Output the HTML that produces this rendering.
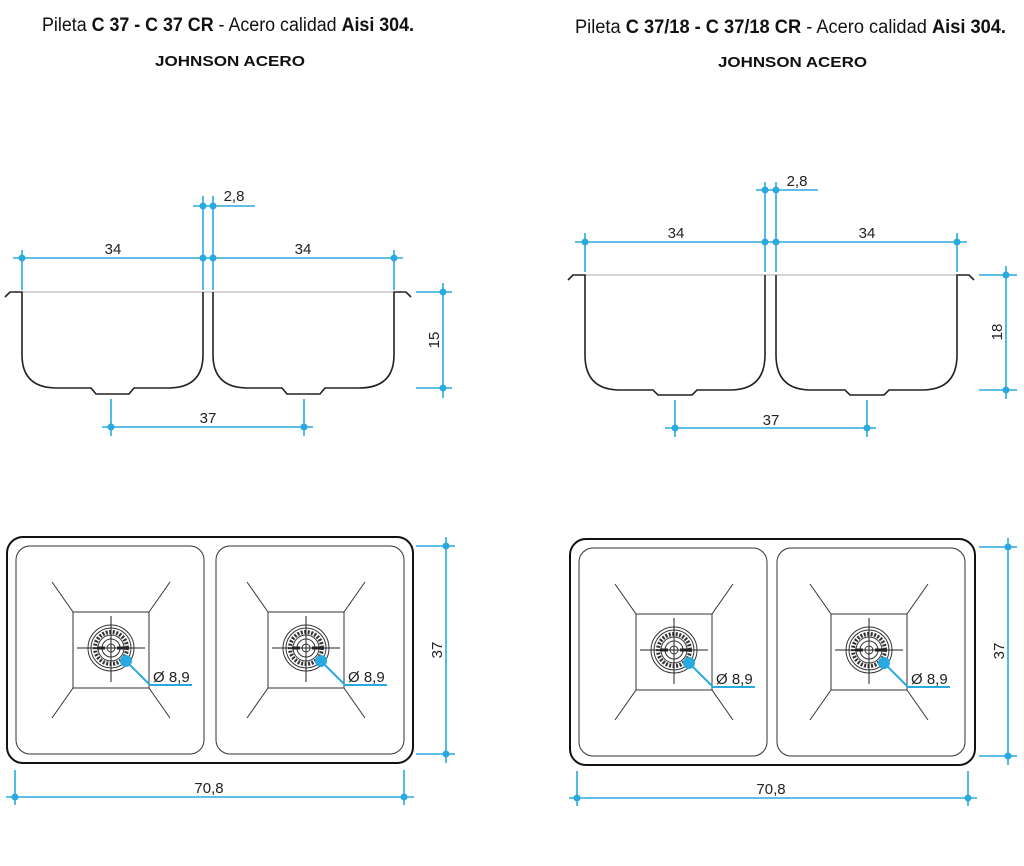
<!DOCTYPE html>
<html><head><meta charset="utf-8"><style>html,body{margin:0;padding:0;background:#fff}svg{display:block}</style></head><body>
<svg width="1024" height="866" viewBox="0 0 1024 866" xmlns="http://www.w3.org/2000/svg" font-family="Liberation Sans, sans-serif">
<defs>
<g id="drain">
 <line x1="-38" y1="-36" x2="-59" y2="-66" stroke="#333" stroke-width="1"/>
 <line x1="38" y1="-36" x2="59" y2="-66" stroke="#333" stroke-width="1"/>
 <line x1="-38" y1="40" x2="-59" y2="70" stroke="#333" stroke-width="1"/>
 <line x1="38" y1="40" x2="59" y2="70" stroke="#333" stroke-width="1"/>
 <rect x="-38" y="-36" width="76" height="76" fill="none" stroke="#333" stroke-width="1"/>
 <circle r="23" fill="none" stroke="#333" stroke-width="1"/>
 <circle r="20" fill="none" stroke="#333" stroke-width="1"/>
 <circle r="16" fill="none" stroke="#333" stroke-width="4" stroke-dasharray="2 1.5"/>
 <circle r="13" fill="none" stroke="#333" stroke-width="1"/>
 <circle r="9" fill="none" stroke="#333" stroke-width="1"/>
 <circle r="4" fill="none" stroke="#333" stroke-width="1"/>
 <line x1="-34" y1="0" x2="34" y2="0" stroke="#222" stroke-width="1"/>
 <line x1="0" y1="-32" x2="0" y2="34" stroke="#222" stroke-width="1"/>
 <line x1="-14" y1="0" x2="-6" y2="0" stroke="#222" stroke-width="3"/>
 <line x1="6" y1="0" x2="14" y2="0" stroke="#222" stroke-width="3"/>
 <circle cx="15" cy="13" r="6" fill="#29a9e0"/>
 <polyline points="15,13 39,37 81,37" fill="none" stroke="#29a9e0" stroke-width="2"/>
</g>
</defs>
<g fill="#111">
<text x="42" y="31" font-size="19" textLength="372" lengthAdjust="spacingAndGlyphs">Pileta <tspan font-weight="bold">C 37 - C 37 CR</tspan> - Acero calidad <tspan font-weight="bold">Aisi 304.</tspan></text>
<text x="155" y="66" font-size="15" font-weight="bold" textLength="150" lengthAdjust="spacingAndGlyphs">JOHNSON ACERO</text>
<text x="575" y="33" font-size="19" textLength="431" lengthAdjust="spacingAndGlyphs">Pileta <tspan font-weight="bold">C 37/18 - C 37/18 CR</tspan> - Acero calidad <tspan font-weight="bold">Aisi 304.</tspan></text>
<text x="718" y="67" font-size="15" font-weight="bold" textLength="149" lengthAdjust="spacingAndGlyphs">JOHNSON ACERO</text>
</g>

<!-- LEFT ELEVATION -->
<line x1="22" y1="292" x2="394" y2="292" stroke="#aaa" stroke-width="1"/>
<g fill="none" stroke="#222" stroke-width="1.6">
<path d="M5,297 L10,292 L22,292 L22,355 Q22,388 57,388 L91,388 L96,394 L129,394 L134,388 L168,388 Q203,388 203,355 L203,292"/>
<path d="M213,292 L213,355 Q213,388 248,388 L282,388 L287,394 L320,394 L325,388 L359,388 Q394,388 394,355 L394,292 L406,292 L411,297"/>
</g>
<g stroke="#29a9e0" stroke-width="1.6" fill="none">
<line x1="13" y1="258" x2="403" y2="258"/>
<line x1="22" y1="250" x2="22" y2="290"/><line x1="394" y1="250" x2="394" y2="290"/>
<line x1="203" y1="196" x2="203" y2="290"/><line x1="213" y1="196" x2="213" y2="290"/>
<line x1="193" y1="206" x2="255" y2="206"/>
<line x1="416" y1="292" x2="452" y2="292"/><line x1="416" y1="388" x2="452" y2="388"/>
<line x1="443" y1="283" x2="443" y2="398"/>
<line x1="102" y1="427" x2="313" y2="427"/>
<line x1="111" y1="399" x2="111" y2="436"/><line x1="304" y1="399" x2="304" y2="436"/>
</g>
<g fill="#29a9e0">
<circle cx="22" cy="258" r="3.5"/><circle cx="203" cy="258" r="3.5"/><circle cx="213" cy="258" r="3.5"/><circle cx="394" cy="258" r="3.5"/>
<circle cx="203" cy="206" r="3.5"/><circle cx="213" cy="206" r="3.5"/>
<circle cx="443" cy="292" r="3.5"/><circle cx="443" cy="388" r="3.5"/>
<circle cx="111" cy="427" r="3.5"/><circle cx="304" cy="427" r="3.5"/>
</g>
<g fill="#222" font-size="15" text-anchor="middle">
<text x="113" y="254">34</text><text x="303" y="254">34</text>
<text x="234" y="201">2,8</text>
<text x="208" y="423">37</text>
<text transform="translate(439,340) rotate(-90)">15</text>
</g>

<!-- RIGHT ELEVATION -->
<line x1="585" y1="275" x2="958" y2="275" stroke="#aaa" stroke-width="1"/>
<g fill="none" stroke="#222" stroke-width="1.6">
<path d="M568,280 L573,275 L585,275 L585,355 Q585,390 620,390 L653,390 L658,395 L692,395 L697,390 L730,390 Q765,390 765,355 L765,275"/>
<path d="M776,275 L776,355 Q776,390 811,390 L845,390 L850,395 L884,395 L889,390 L922,390 Q957,390 957,355 L957,275 L969,275 L974,280"/>
</g>
<g stroke="#29a9e0" stroke-width="1.6" fill="none">
<line x1="575" y1="242" x2="967" y2="242"/>
<line x1="585" y1="233" x2="585" y2="272"/><line x1="957" y1="233" x2="957" y2="272"/>
<line x1="765" y1="182" x2="765" y2="272"/><line x1="776" y1="182" x2="776" y2="272"/>
<line x1="756" y1="190" x2="818" y2="190"/>
<line x1="979" y1="275" x2="1017" y2="275"/><line x1="979" y1="390" x2="1017" y2="390"/>
<line x1="1006" y1="266" x2="1006" y2="399"/>
<line x1="665" y1="428" x2="876" y2="428"/>
<line x1="675" y1="400" x2="675" y2="437"/><line x1="867" y1="400" x2="867" y2="437"/>
</g>
<g fill="#29a9e0">
<circle cx="585" cy="242" r="3.5"/><circle cx="765" cy="242" r="3.5"/><circle cx="776" cy="242" r="3.5"/><circle cx="957" cy="242" r="3.5"/>
<circle cx="765" cy="190" r="3.5"/><circle cx="776" cy="190" r="3.5"/>
<circle cx="1006" cy="275" r="3.5"/><circle cx="1006" cy="390" r="3.5"/>
<circle cx="675" cy="428" r="3.5"/><circle cx="867" cy="428" r="3.5"/>
</g>
<g fill="#222" font-size="15" text-anchor="middle">
<text x="676" y="238">34</text><text x="867" y="238">34</text>
<text x="797" y="186">2,8</text>
<text x="771" y="425">37</text>
<text transform="translate(1002,332) rotate(-90)">18</text>
</g>

<!-- LEFT PLAN -->
<rect x="7" y="537" width="406" height="226" rx="16" fill="none" stroke="#111" stroke-width="2"/>
<rect x="16" y="546" width="188" height="208" rx="14" fill="none" stroke="#333" stroke-width="1"/>
<rect x="216" y="546" width="188" height="208" rx="14" fill="none" stroke="#333" stroke-width="1"/>
<use href="#drain" x="111" y="648"/>
<use href="#drain" x="306" y="648"/>
<g fill="#222" font-size="15"><text x="153" y="682">Ø 8,9</text><text x="348" y="682">Ø 8,9</text></g>
<g stroke="#29a9e0" stroke-width="1.6" fill="none">
<line x1="416" y1="546" x2="455" y2="546"/><line x1="416" y1="754" x2="455" y2="754"/>
<line x1="446" y1="537" x2="446" y2="763"/>
<line x1="6" y1="797" x2="414" y2="797"/>
<line x1="15" y1="770" x2="15" y2="805"/><line x1="404" y1="770" x2="404" y2="805"/>
</g>
<g fill="#29a9e0"><circle cx="446" cy="546" r="3.5"/><circle cx="446" cy="754" r="3.5"/><circle cx="15" cy="797" r="3.5"/><circle cx="404" cy="797" r="3.5"/></g>
<g fill="#222" font-size="15" text-anchor="middle">
<text x="209" y="793">70,8</text>
<text transform="translate(442,650) rotate(-90)">37</text>
</g>

<!-- RIGHT PLAN -->
<rect x="570" y="539" width="405" height="226" rx="16" fill="none" stroke="#111" stroke-width="2"/>
<rect x="579" y="548" width="188" height="208" rx="14" fill="none" stroke="#333" stroke-width="1"/>
<rect x="777" y="548" width="188" height="208" rx="14" fill="none" stroke="#333" stroke-width="1"/>
<use href="#drain" x="674" y="650"/>
<use href="#drain" x="869" y="650"/>
<g fill="#222" font-size="15"><text x="716" y="684">Ø 8,9</text><text x="911" y="684">Ø 8,9</text></g>
<g stroke="#29a9e0" stroke-width="1.6" fill="none">
<line x1="979" y1="547" x2="1017" y2="547"/><line x1="979" y1="756" x2="1017" y2="756"/>
<line x1="1008" y1="538" x2="1008" y2="765"/>
<line x1="569" y1="798" x2="977" y2="798"/>
<line x1="577" y1="771" x2="577" y2="806"/><line x1="968" y1="771" x2="968" y2="806"/>
</g>
<g fill="#29a9e0"><circle cx="1008" cy="547" r="3.5"/><circle cx="1008" cy="756" r="3.5"/><circle cx="577" cy="798" r="3.5"/><circle cx="968" cy="798" r="3.5"/></g>
<g fill="#222" font-size="15" text-anchor="middle">
<text x="771" y="794">70,8</text>
<text transform="translate(1004,651) rotate(-90)">37</text>
</g>
</svg>
</body></html>
